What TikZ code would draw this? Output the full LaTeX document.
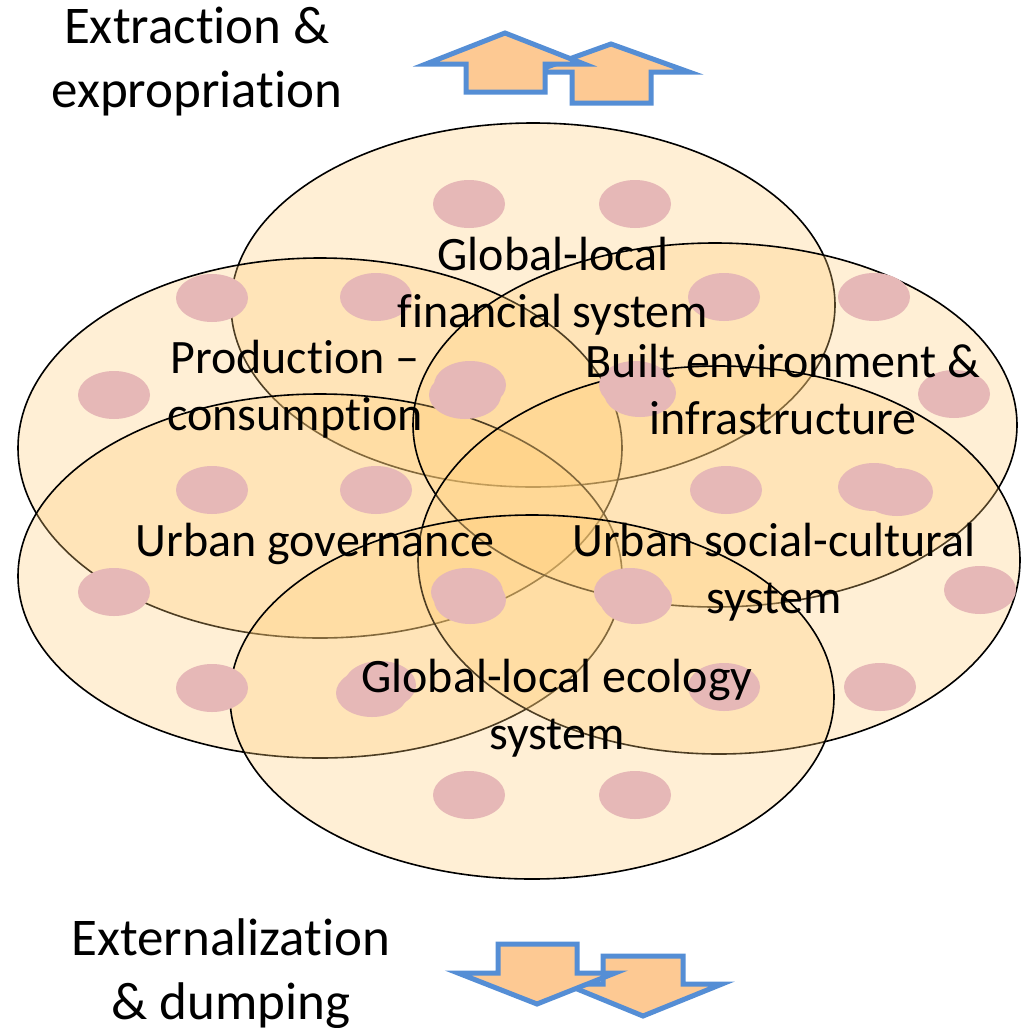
\documentclass[tikz,border=0pt]{standalone}
\usepackage{fontspec}
\setmainfont{Carlito}[Ligatures={NoCommon}]
\definecolor{efill}{HTML}{FFCD76}
\definecolor{dotc}{HTML}{E6B8B7}
\definecolor{arrowfill}{HTML}{FDC993}
\definecolor{arrowline}{HTML}{558ED5}
\begin{document}
\begin{tikzpicture}[x=1pt,y=-1pt,
  sphere/.style={fill=efill, fill opacity=0.3, draw=black, draw opacity=1, line width=1.6pt},
  pinkdot/.style={fill=dotc, draw=none},
  lbl/.style={font=\fontsize{48}{57}\selectfont, align=center, inner sep=0pt, text=black},
  toplbl/.style={font=\fontsize{53}{64}\selectfont, align=center, inner sep=0pt, text=black},
  blockarrow/.style={fill=arrowfill, draw=arrowline, line width=5pt, line join=miter, miter limit=10}]
\useasboundingbox (0,0) rectangle (1021,1028);
\fill[white] (0,0) rectangle (1021,1028);

% spheres
\path[sphere] (533,305) ellipse [x radius=302pt, y radius=182pt];
\path[sphere] (320,448) ellipse [x radius=302pt, y radius=190pt];
\path[sphere] (320,576) ellipse [x radius=302pt, y radius=182pt];
\path[sphere] (715,425) ellipse [x radius=302pt, y radius=182pt];
\path[sphere] (719,560) ellipse [x radius=301pt, y radius=194pt];
\path[sphere] (532,697) ellipse [x radius=302pt, y radius=182pt];

% dots
\foreach \p in {(469,204),(635,204),
  (212,298),(376,297),(724,297),(874,297),
  (114,395),(470,385),(465,395),(635,385),(640,393),(954,394),
  (212,490),(376,490),(726,490),(874,487),(897,492),
  (114,592),(467,592),(470,600),(630,592),(636,600),(980,590),
  (212,688),(380,685),(372,693),(724,687),(880,687),
  (469,795),(635,795)}
  \path[pinkdot] \p ellipse [x radius=36pt, y radius=24pt];

% labels
\node[lbl] (fin) at (553,286) {Global-local\\financial system};
\node[lbl] (prod) at (295,389) {Production –\\consumption};
\node[lbl] (built) at (783,390) {Built environment \&\\infrastructure};
\node[lbl] (gov) at (315,544) {Urban governance};
\node[lbl] (soc) at (774,572) {Urban social-cultural\\system};
\node[lbl] (eco) at (557,708) {Global-local ecology\\system};

\node[toplbl] (extr) at (197,62) {Extraction \&\\expropriation};
\node[toplbl] (ext) at (231,974) {Externalization\\\& dumping};

% up arrows
\path[blockarrow] (611,44) -- (689,72) -- (651,72) -- (651,103) -- (572,103) -- (572,72) -- (533,72) -- cycle;
\path[blockarrow] (505,33) -- (584,64) -- (545,64) -- (545,92) -- (466,92) -- (466,64) -- (426,64) -- cycle;
% down arrows
\path[blockarrow] (643,1016) -- (722,984) -- (683,984) -- (683,956) -- (603,956) -- (603,984) -- (565,984) -- cycle;
\path[blockarrow] (537,1004) -- (615,973) -- (577,973) -- (577,944) -- (498,944) -- (498,973) -- (458,973) -- cycle;
\end{tikzpicture}
\end{document}
